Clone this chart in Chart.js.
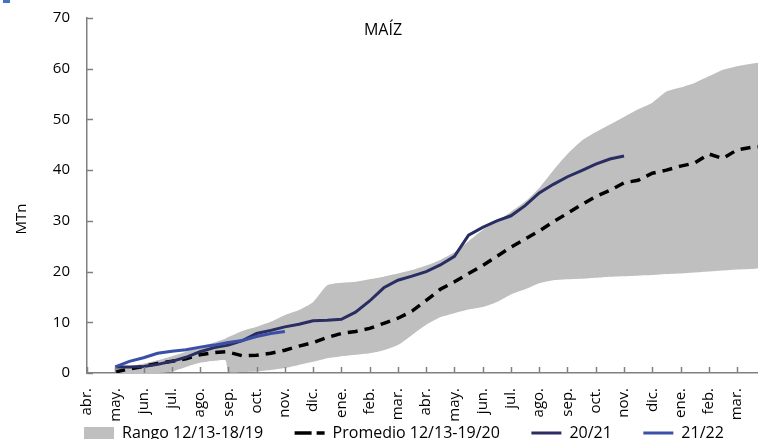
<!DOCTYPE html>
<html><head><meta charset="utf-8">
<script src="https://cdn.jsdelivr.net/npm/chart.js@4.4.1/dist/chart.umd.min.js"></script>
<style>html,body{margin:0;padding:0;background:#fff}#wrap{width:758px;height:439px;position:relative}canvas{display:block}</style>
</head><body><div id="wrap"><canvas id="c" width="758" height="439" style="width:758px;height:439px"></canvas></div>
<script>
const CHART_TITLE = 'MAÍZ';
const Y_TITLE = 'MTn';
const monthLabels = ['abr.','may.','jun.','jul.','ago.','sep.','oct.','nov.','dic.','ene.','feb.','mar.',
                     'abr.','may.','jun.','jul.','ago.','sep.','oct.','nov.','dic.','ene.','feb.','mar.'];
const seriesNames = ['Rango 12/13-18/19','Promedio 12/13-19/20','20/21','21/22'];
// position in months counted from the start of April (campaign start)
const months = [1,1.5,2,2.5,3,3.5,4,4.5,4.9,5,5.5,6,6.5,7,7.5,8,8.5,9,9.5,10,10.5,11,11.5,12,12.5,13,13.5,14,14.5,15,15.5,16,16.5,17,17.5,18,18.5,19,19.5,20,20.5,21,21.5,22,22.5,23,23.5,23.74];
const rangoMax = [1.0,1.3,1.8,2.5,3.3,4.2,5.2,6.0,6.8,7.1,8.3,9.1,10.1,11.4,12.4,14.0,17.3,17.8,18.0,18.5,19.0,19.6,20.3,21.2,22.3,23.8,26.0,28.2,29.8,31.8,33.8,36.5,40.0,43.2,45.8,47.5,49.0,50.5,52.0,53.3,55.5,56.3,57.2,58.5,59.8,60.5,61.0,61.2];
const rangoMin = [0,0,0,0,0.3,1.2,2.0,2.4,2.5,0.2,0.2,0.3,0.6,1.0,1.6,2.2,2.9,3.3,3.6,3.9,4.5,5.5,7.5,9.5,11.0,11.8,12.5,13.0,14.0,15.5,16.5,17.7,18.3,18.5,18.6,18.8,19.0,19.1,19.2,19.3,19.5,19.6,19.8,20.0,20.2,20.4,20.5,20.6];
const promedio = [0.2,0.8,1.3,1.9,2.3,2.8,3.6,4.0,4.2,4.1,3.4,3.5,3.9,4.5,5.3,6.0,7.0,7.8,8.2,8.8,9.8,10.8,12.2,14.3,16.5,18.0,19.6,21.2,23.0,24.8,26.4,28.0,29.8,31.5,33.2,34.8,36.0,37.5,38.0,39.4,40.0,40.8,41.4,43.2,42.3,44.0,44.5,44.6];
const s2021 = [1.2,1.2,1.3,1.7,2.3,3.1,4.2,5.0,5.4,5.5,6.4,7.8,8.4,9.1,9.6,10.3,10.4,10.6,12.0,14.2,16.8,18.3,19.1,20.0,21.3,23.0,27.2,28.7,30.0,31.0,33.0,35.5,37.2,38.7,39.9,41.2,42.2,42.8];
const s2122 = [1.2,2.3,3.0,3.9,4.3,4.6,5.1,5.5,5.9,6.0,6.4,7.2,7.8,8.2];
const yTicks = [0,10,20,30,40,50,60,70];

const pts = arr => arr.map((v, i) => ({x: months[i], y: v}));
const GREY = '#bfbfbf', NAVY = '#2a2d62', BLUE = '#3a4fa6';
const LEG_PAD = 31.5, LEG_FONT = 16, X_AXIS_H = 60;

Chart.defaults.font.family = "'Open Sans', sans-serif";
Chart.defaults.font.size = 15;
Chart.defaults.color = '#000';

const decor = {
  id: 'decor',
  afterLayout(chart) {
    const lg = chart.legend;
    const h = lg.bottom - lg.top;
    lg.left = 84 - LEG_PAD;
    lg.right = lg.left + 900;
    lg.top = 433 - LEG_PAD - LEG_FONT / 2;
    lg.bottom = lg.top + h;
  },
  afterDatasetsDraw(chart) {
    const {ctx, scales: {x, y}, chartArea} = chart;
    ctx.save();
    ctx.strokeStyle = '#808080';
    ctx.lineWidth = 1.5;
    x.ticks.forEach(t => {
      const px = Math.round(x.getPixelForValue(t.value)) + 0.5;
      ctx.beginPath(); ctx.moveTo(px, chartArea.bottom); ctx.lineTo(px, chartArea.bottom - 6); ctx.stroke();
    });
    y.ticks.forEach(t => {
      const py = Math.round(y.getPixelForValue(t.value)) + 0.5;
      ctx.beginPath(); ctx.moveTo(chartArea.left, py); ctx.lineTo(chartArea.left + 6, py); ctx.stroke();
    });
    ctx.fillStyle = '#000';
    ctx.font = "16px 'Open Sans', sans-serif";
    ctx.textAlign = 'center';
    ctx.textBaseline = 'middle';
    ctx.fillText(CHART_TITLE, chartArea.left + 296, chartArea.top + 12);
    ctx.font = "15px 'Open Sans', sans-serif";
    ctx.translate(22, 219);
    ctx.rotate(-Math.PI / 2);
    ctx.fillText(Y_TITLE, 0, 0);
    ctx.restore();
    ctx.save();
    ctx.fillStyle = '#4472c4';
    ctx.fillRect(3, 0, 7, 3);
    ctx.restore();
  }
};

new Chart(document.getElementById('c'), {
  type: 'line',
  data: {
    datasets: [
      {label: seriesNames[0], data: pts(rangoMax), borderWidth: 0, borderColor: GREY, backgroundColor: GREY, pointRadius: 0, fill: 1, order: 3, tension: 0.2},
      {label: 'min', data: pts(rangoMin), borderWidth: 0, borderColor: GREY, backgroundColor: GREY, pointRadius: 0, fill: false, order: 4, tension: 0.2},
      {label: seriesNames[1], data: pts(promedio), borderColor: '#000', borderWidth: 3.5, borderDash: [10, 7], pointRadius: 0, fill: false, order: 2},
      {label: seriesNames[2], data: pts(s2021), borderColor: NAVY, borderWidth: 3, pointRadius: 0, fill: false, order: 1},
      {label: seriesNames[3], data: pts(s2122), borderColor: BLUE, borderWidth: 3, pointRadius: 0, fill: false, order: 0}
    ]
  },
  options: {
    responsive: false,
    animation: false,
    maintainAspectRatio: false,
    layout: {padding: {top: 18, left: 0, right: 0, bottom: 439 - 373 - X_AXIS_H - (LEG_FONT + LEG_PAD + 10)}},
    scales: {
      x: {
        type: 'linear', min: 0, max: 23.74,
        grid: {display: false, drawTicks: false},
        border: {display: true, color: '#808080', width: 1.5},
        afterFit(s) { s.height = X_AXIS_H; s.paddingLeft = 0; s.paddingRight = 0; },
        ticks: {
          stepSize: 1, autoSkip: false, includeBounds: false, maxRotation: 90, minRotation: 90, padding: 15,
          callback: v => monthLabels[v] ?? ''
        }
      },
      y: {
        min: 0, max: 70,
        grid: {display: false, drawTicks: false},
        border: {display: true, color: '#808080', width: 1.5},
        afterFit(s) { s.width = 87; s.paddingTop = 0; s.paddingBottom = 0; },
        afterBuildTicks(s) { s.ticks = yTicks.map(v => ({value: v})); },
        ticks: {padding: 17}
      }
    },
    plugins: {
      title: {display: false},
      tooltip: {enabled: false},
      legend: {
        position: 'bottom',
        align: 'start',
        labels: {
          font: {size: LEG_FONT},
          usePointStyle: true, pointStyleWidth: 30, boxHeight: 12, padding: LEG_PAD,
          generateLabels: () => [
            {text: seriesNames[0], pointStyle: 'rect', fillStyle: GREY, strokeStyle: GREY, lineWidth: 0, fontColor: '#000'},
            {text: seriesNames[1], pointStyle: 'line', fillStyle: '#000', strokeStyle: '#000', lineWidth: 3.5, lineDash: [17, 5], fontColor: '#000'},
            {text: seriesNames[2], pointStyle: 'line', fillStyle: NAVY, strokeStyle: NAVY, lineWidth: 3, fontColor: '#000'},
            {text: seriesNames[3], pointStyle: 'line', fillStyle: BLUE, strokeStyle: BLUE, lineWidth: 3, fontColor: '#000'}
          ]
        }
      }
    }
  },
  plugins: [decor]
});
</script>
</body></html>
